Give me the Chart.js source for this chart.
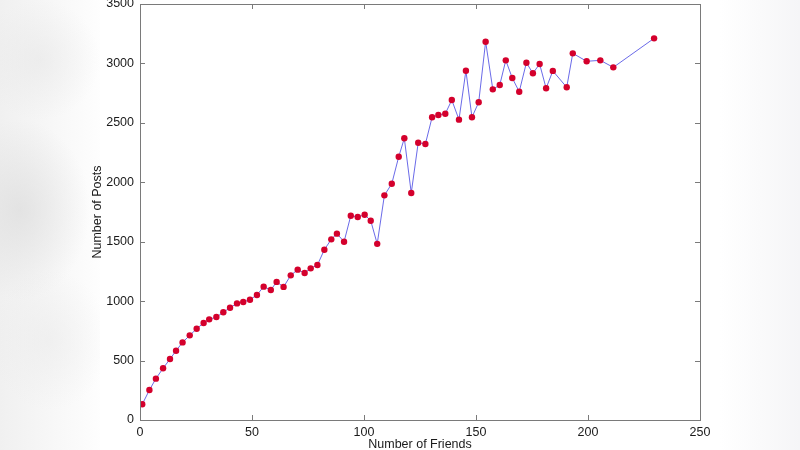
<!DOCTYPE html>
<html>
<head>
<meta charset="utf-8">
<script src="https://cdn.jsdelivr.net/npm/chart.js@4.4.1/dist/chart.umd.min.js"></script>
<style>
  html, body { margin: 0; padding: 0; }
  body {
    width: 800px; height: 450px; overflow: hidden;
    background:
      radial-gradient(ellipse 70px 90px at 20px 210px, rgba(220,220,220,0.7), rgba(255,255,255,0) 100%),
      radial-gradient(ellipse 60px 60px at 40px 60px, rgba(228,228,228,0.5), rgba(255,255,255,0) 100%),
      radial-gradient(ellipse 60px 70px at 50px 340px, rgba(232,232,232,0.5), rgba(255,255,255,0) 100%),
      linear-gradient(to right, rgba(240,240,240,1) 0px, rgba(255,255,255,1) 110px, rgba(255,255,255,1) 720px, rgba(245,245,247,1) 800px);
  }
  #wrap { position: relative; width: 800px; height: 450px; }
</style>
</head>
<body>
<div id="wrap"><canvas id="c" width="800" height="450"></canvas></div>
<script>
// Data
const friends = [1.0, 4.2, 7.1, 10.3, 13.4, 16.1, 19.0, 22.2, 25.3, 28.4, 30.9, 34.1, 37.2, 40.2, 43.3, 46.1, 49.1, 52.2, 55.2, 58.4,
  61.0, 64.1, 67.3, 70.4, 73.5, 76.2, 79.2, 82.3, 85.4, 87.9, 91.1, 94.1, 97.2, 100.3, 103.0, 105.9, 109.1, 112.4, 115.5, 118.0,
  121.1, 124.2, 127.4, 130.4, 133.2, 136.3, 139.2, 142.4, 145.5, 148.2, 151.2, 154.3, 157.5, 160.6, 163.3, 166.2, 169.3, 172.5, 175.4, 178.4,
  181.3, 184.3, 190.5, 193.2, 199.4, 205.5, 211.3, 229.5];
const posts = [132, 252, 348, 435, 513, 583, 653, 712, 768, 816, 847, 866, 906, 945, 981, 993, 1012, 1052, 1122, 1094,
  1162, 1120, 1217, 1265, 1237, 1276, 1304, 1433, 1520, 1568, 1500, 1719, 1708, 1727, 1677, 1482, 1890, 1988, 2215, 2370,
  1910, 2333, 2322, 2547, 2566, 2577, 2692, 2527, 2939, 2547, 2673, 3183, 2782, 2818, 3026, 2877, 2762, 3006, 2917, 2995,
  2791, 2937, 2799, 3085, 3018, 3026, 2967, 3211];
const xTicks = [0, 50, 100, 150, 200, 250];
const yTicks = [0, 500, 1000, 1500, 2000, 2500, 3000, 3500];
const xTitle = 'Number of Friends';
const yTitle = 'Number of Posts';

const points = friends.map((f, i) => ({ x: f, y: posts[i] }));
const FONT = "'Liberation Sans', Arial, Helvetica, sans-serif";

const frame = {
  id: 'frame',
  afterDraw(chart) {
    const { ctx, chartArea: a, scales: { x, y } } = chart;
    ctx.save();
    ctx.strokeStyle = '#7a7a7a';
    ctx.lineWidth = 1;
    ctx.beginPath();
    const L = 5;
    xTicks.forEach(v => {
      const px = Math.round(x.getPixelForValue(v)) + 0.5;
      ctx.moveTo(px, a.bottom); ctx.lineTo(px, a.bottom - L);
      ctx.moveTo(px, a.top); ctx.lineTo(px, a.top + L);
    });
    yTicks.forEach(v => {
      const py = Math.round(y.getPixelForValue(v)) + 0.5;
      ctx.moveTo(a.left, py); ctx.lineTo(a.left + L, py);
      ctx.moveTo(a.right, py); ctx.lineTo(a.right - L, py);
    });
    ctx.stroke();
    ctx.strokeRect(Math.round(a.left) + 0.5, Math.round(a.top) + 0.5, Math.round(a.right - a.left), Math.round(a.bottom - a.top));
    ctx.restore();
  }
};

const whiteArea = {
  id: 'whiteArea',
  beforeDraw(chart) {
    const { ctx, chartArea: a } = chart;
    ctx.save();
    ctx.fillStyle = '#ffffff';
    ctx.fillRect(a.left - 40, 0, a.right - a.left + 50, 450);
    ctx.restore();
  }
};

new Chart(document.getElementById('c'), {
  type: 'scatter',
  data: {
    datasets: [{
      data: points,
      showLine: true,
      borderColor: 'rgba(90,90,230,0.9)',
      borderWidth: 1,
      pointRadius: 3.2,
      pointBackgroundColor: '#d4002c',
      pointBorderColor: '#d4002c',
      pointBorderWidth: 0,
      tension: 0
    }]
  },
  options: {
    responsive: false,
    animation: false,
    events: [],
    layout: { padding: { left: 0, right: 100, top: 4, bottom: 0 } },
    plugins: { legend: { display: false }, tooltip: { enabled: false } },
    scales: {
      x: {
        type: 'linear', min: 0, max: 250,
        afterBuildTicks: s => { s.ticks = xTicks.map(v => ({ value: v })); },
        afterFit: s => { s.height = 30; s.paddingLeft = 0; s.paddingRight = 0; },
        grid: { display: false, drawTicks: false },
        border: { display: false },
        ticks: { color: '#1a1a1a', font: { family: FONT, size: 12.5 }, padding: 5, maxRotation: 0, callback: v => String(v) },
        title: { display: true, text: xTitle, color: '#1a1a1a', font: { family: FONT, size: 12.5 }, padding: { top: 0, bottom: -2 } }
      },
      y: {
        type: 'linear', min: 0, max: 3500,
        afterBuildTicks: s => { s.ticks = yTicks.map(v => ({ value: v })); },
        afterFit: s => { s.width = 140; s.paddingTop = 0; s.paddingBottom = 0; },
        grid: { display: false, drawTicks: false },
        border: { display: false },
        ticks: { color: '#1a1a1a', font: { family: FONT, size: 12.5 }, padding: 6, callback: v => String(v) },
        title: { display: true, text: yTitle, color: '#1a1a1a', font: { family: FONT, size: 12.5 }, padding: { top: 90, bottom: 0 } }
      }
    }
  },
  plugins: [whiteArea, frame]
});
</script>
</body>
</html>
